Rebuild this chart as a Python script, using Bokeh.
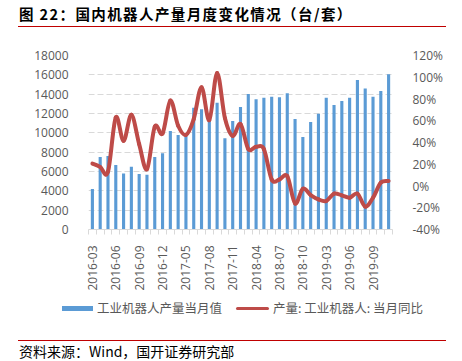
import math
from bokeh.plotting import figure
from bokeh.layouts import column
from bokeh.models import (Range1d, LinearAxis, FixedTicker, PrintfTickFormatter, Div)
from bokeh.embed import file_html
from bokeh.resources import INLINE

months = ["2016-03", "2016-04", "2016-05", "2016-06", "2016-07", "2016-08", "2016-09", "2016-10", "2016-11", "2016-12",
          "2017-03", "2017-04", "2017-05", "2017-06", "2017-07", "2017-08", "2017-09", "2017-10", "2017-11", "2017-12",
          "2018-03", "2018-04", "2018-05", "2018-06", "2018-07", "2018-08", "2018-09", "2018-10", "2018-11", "2018-12",
          "2019-03", "2019-04", "2019-05", "2019-06", "2019-07", "2019-08", "2019-09", "2019-10", "2019-11"]
production = [4200, 7500, 7600, 6660, 5800, 6500, 5730, 5660, 7500, 7900,
              10190, 9770, 9670, 12600, 12430, 11400, 13100, 9430, 11220, 12670,
              14020, 13470, 13640, 13740, 13680, 14090, 11430, 9560, 11120, 11980,
              13640, 12880, 13300, 13640, 15470, 14580, 13740, 14330, 16060]
yoy = [20.6, 17.5, 13.2, 63, 41.5, 65.5, 38.5, 15.4, 54.5, 48.3,
       78.5, 55.4, 47, 61.6, 90.8, 60.6, 104, 62.5, 46, 57,
       34, 36, 34, 6, 6, 9, -16, -2.5, -8.3, -12.3,
       -13.8, -7, -8.6, -10.8, -7, -19, -10.8, 3, 4.6]
left_ticks = [0, 2000, 4000, 6000, 8000, 10000, 12000, 14000, 16000, 18000]
right_ticks = [-40, -20, 0, 20, 40, 60, 80, 100, 120]

title_text = "图 22：国内机器人产量月度变化情况（台/套）"
source_text = "资料来源：Wind，国开证券研究部"
bar_name = "工业机器人产量当月值"
line_name = "产量: 工业机器人: 当月同比"

n = len(months)
xs = list(range(n))

W = 446
GRAY = "#595959"
RED = "#C00000"
BLUE = "#5B9BD5"
LINE = "#BE4B48"
TICKFONT = "Open Sans"
CJK = "Noto Sans CJK SC"

# ---- header (title + red rule)
head = Div(width=W, height=40, margin=0, text=(
    '<div style="position:relative;width:%dpx;height:40px;margin:0;padding:0;">'
    '<div style="position:absolute;left:19px;top:4px;white-space:nowrap;font-family:\'%s\';'
    'font-weight:bold;font-size:14.5px;letter-spacing:1.4px;line-height:20px;color:#000;">%s</div>'
    '<div style="position:absolute;left:18px;width:%dpx;top:26px;height:1.2px;background:%s;"></div>'
    '</div>') % (W, CJK, title_text, W - 18, RED))

# ---- main chart
p = figure(width=W, height=258, output_backend="svg", toolbar_location=None, title=None,
           x_range=Range1d(-0.5, n - 0.5), y_range=Range1d(0, 18000),
           min_border_left=88, min_border_right=48, min_border_top=15, min_border_bottom=69)
p.outline_line_color = None
p.xgrid.grid_line_color = None
p.ygrid.grid_line_color = "#D9D9D9"
p.ygrid.grid_line_dash = "6 3"
p.extra_y_ranges = {"pct": Range1d(-40, 120)}

bars = p.vbar(x=xs, top=production, width=0.4, fill_color=BLUE, line_color=None)

# smooth curve through the data points (Catmull-Rom as cubic Bezier segments)
x0, y0, x1, y1, cx0, cy0, cx1, cy1 = [], [], [], [], [], [], [], []
for i in range(n - 1):
    pr = max(i - 1, 0)
    nx = min(i + 2, n - 1)
    x0.append(xs[i]); y0.append(yoy[i])
    x1.append(xs[i + 1]); y1.append(yoy[i + 1])
    cx0.append(xs[i] + (xs[i + 1] - xs[pr]) / 6.0)
    cy0.append(yoy[i] + (yoy[i + 1] - yoy[pr]) / 6.0)
    cx1.append(xs[i + 1] - (xs[nx] - xs[i]) / 6.0)
    cy1.append(yoy[i + 1] - (yoy[nx] - yoy[i]) / 6.0)
curve = p.bezier(x0=x0, y0=y0, x1=x1, y1=y1, cx0=cx0, cy0=cy0, cx1=cx1, cy1=cy1,
                 line_color=LINE, line_width=4, line_cap="round", y_range_name="pct")

ya = p.yaxis[0]
ya.ticker = FixedTicker(ticks=left_ticks)
ya.axis_line_color = None
ya.major_tick_line_color = None
ya.minor_tick_line_color = None
ya.major_label_text_font = TICKFONT
ya.major_label_text_font_size = "12px"
ya.major_label_text_color = GRAY
ya.major_label_standoff = 14

xa = p.xaxis[0]
xa.ticker = FixedTicker(ticks=list(range(0, n, 3)), minor_ticks=[i - 0.5 for i in range(n + 1)])
xa.major_label_overrides = {i: months[i] for i in range(0, n, 3)}
xa.major_label_orientation = math.pi / 2
xa.axis_line_color = "#D9D9D9"
xa.major_tick_line_color = None
xa.minor_tick_line_color = "#D9D9D9"
xa.minor_tick_in = 0
xa.minor_tick_out = 5
xa.major_label_standoff = 10
xa.major_label_text_font = TICKFONT
xa.major_label_text_font_size = "12px"
xa.major_label_text_color = GRAY

ra = LinearAxis(y_range_name="pct", ticker=FixedTicker(ticks=right_ticks),
                formatter=PrintfTickFormatter(format="%d%%"))
ra.axis_line_color = None
ra.major_tick_line_color = None
ra.minor_tick_line_color = None
ra.major_label_text_font = TICKFONT
ra.major_label_text_font_size = "12px"
ra.major_label_text_color = GRAY
ra.major_label_standoff = 14
p.add_layout(ra, "right")

# ---- legend row
lab = ('position:absolute;top:2px;white-space:nowrap;font-family:\'%s\';font-size:12.5px;'
       'line-height:16px;color:%s;') % (CJK, GRAY)
leg = Div(width=W, height=22, margin=0, text=(
    '<div style="position:relative;width:%dpx;height:22px;margin:0;padding:0;">'
    '<div style="position:absolute;left:62px;top:7.5px;width:31px;height:5px;background:%s;"></div>'
    '<div style="%sleft:97px;">%s</div>'
    '<div style="position:absolute;left:236px;top:8.5px;width:33px;height:3px;border-radius:1.5px;background:%s;"></div>'
    '<div style="%sleft:273px;">%s</div>'
    '</div>') % (W, BLUE, lab, bar_name, LINE, lab, line_name))

# ---- footer (red rule + source)
foot = Div(width=W, height=25, margin=0, text=(
    '<div style="position:relative;width:%dpx;height:25px;margin:0;padding:0;">'
    '<div style="position:absolute;left:18px;width:%dpx;top:19.5px;height:1.2px;background:%s;"></div>'
    '<div style="position:absolute;left:19px;top:23px;white-space:nowrap;font-family:\'%s\';'
    'font-size:14px;line-height:16px;color:#000;">%s</div>'
    '</div>') % (W, W - 18, RED, CJK, source_text))

layout = column(head, p, leg, foot, spacing=0)
open("out.html", "w").write(file_html(layout, INLINE))
